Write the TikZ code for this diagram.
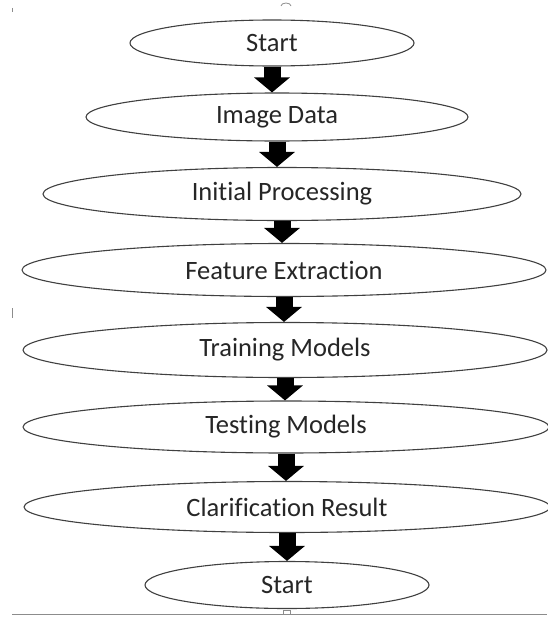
\documentclass[tikz,border=0pt]{standalone}
\usepackage{fontspec}
\setmainfont{Carlito}[Ligatures=NoCommon]
\usetikzlibrary{shapes.geometric,arrows.meta}

\tikzset{
  stage/.style={ellipse, draw=black!75, line width=1.1pt, fill=white,
    inner sep=0pt, text=black!85, font=\fontsize{26.5}{31}\selectfont},
  flow/.style={black, line width=17pt,
    -{Triangle[width=35pt,length=15pt]}},
  edgemark/.style={black!45, line width=0.8pt}
}

\begin{document}
\begin{tikzpicture}[x=1pt,y=-1pt]
  \useasboundingbox (0,0) rectangle (547,618);

  % process stages, top to bottom
  \node[stage, minimum width=284pt, minimum height=46pt] (s1) at (272,43)  {Start};
  \node[stage, minimum width=382pt, minimum height=48pt] (s2) at (277,117) {Image Data};
  \node[stage, minimum width=478pt, minimum height=53pt] (s3) at (282,194) {Initial Processing};
  \node[stage, minimum width=524pt, minimum height=53pt] (s4) at (284,270) {Feature Extraction};
  \node[stage, minimum width=524pt, minimum height=55pt] (s5) at (285,350) {Training Models};
  \node[stage, minimum width=526pt, minimum height=52pt] (s6) at (286,427) {Testing Models};
  \node[stage, minimum width=526pt, minimum height=51pt] (s7) at (287,507) {Clarification Result};
  \node[stage, minimum width=284pt, minimum height=47pt] (s8) at (287,585) {Start};

  % block arrows between consecutive stages
  \foreach \a/\b in {s1/s2, s2/s3, s3/s4, s4/s5, s5/s6, s6/s7, s7/s8}
    \draw[flow] (\a.south) -- (\a.south |- \b.north);

  % page edge marks
  \coordinate (tl) at (12,8);
  \coordinate (tl2) at (12,12);
  \draw[edgemark] (tl) -- (tl2);
  \coordinate (ml) at (12,308);
  \coordinate (ml2) at (12,318);
  \draw[edgemark] (ml) -- (ml2);
  \draw[edgemark] (281,6) arc[start angle=180, end angle=360, x radius=5, y radius=3];
  \coordinate (bl) at (12,614);
  \coordinate (br) at (547,614);
  \draw[edgemark] (bl) -- (br);
  \draw[edgemark, fill=white] (283,614) rectangle (290,610);
\end{tikzpicture}
\end{document}
